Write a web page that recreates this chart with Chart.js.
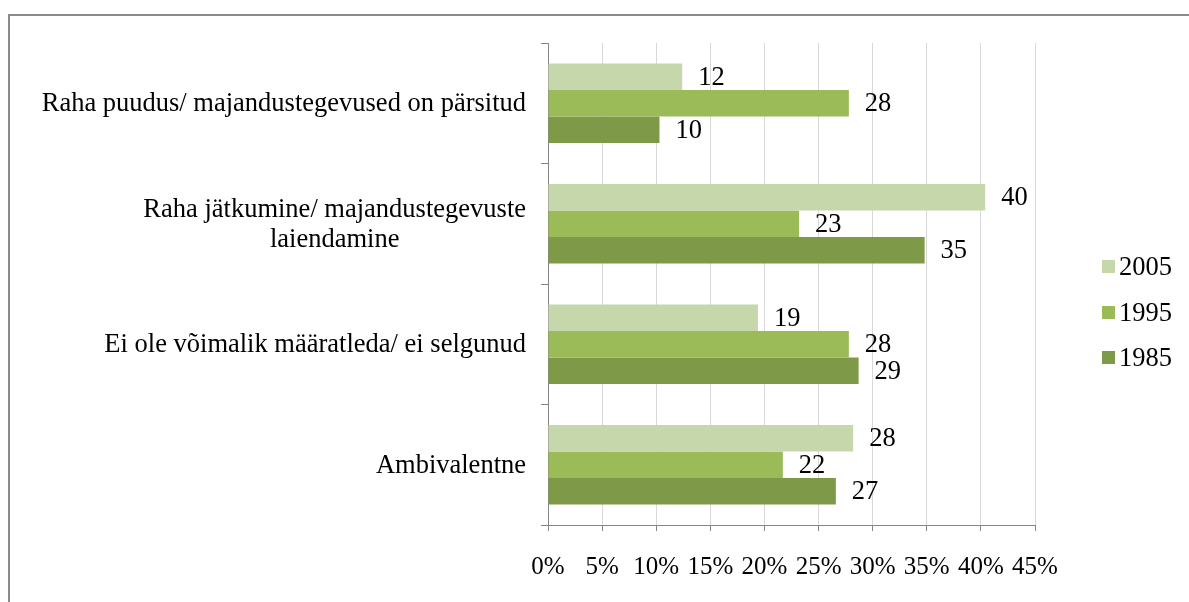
<!DOCTYPE html>
<html>
<head>
<meta charset="utf-8">
<script src="https://cdn.jsdelivr.net/npm/chart.js@4/dist/chart.umd.min.js"></script>
<style>
html,body{margin:0;padding:0;background:#fff;}
canvas{display:block;}
</style>
</head>
<body>
<canvas id="c" width="1189" height="602"></canvas>
<script>
const categories = [
  "Raha puudus/ majandustegevused on pärsitud",
  ["Raha jätkumine/ majandustegevuste", "laiendamine"],
  "Ei ole võimalik määratleda/ ei selgunud",
  "Ambivalentne"
];
const seriesNames = ["2005", "1995", "1985"];
const values2005 = [12.4, 40.4, 19.4, 28.2];
const values1995 = [27.8, 23.2, 27.8, 21.7];
const values1985 = [10.3, 34.8, 28.7, 26.6];
const xTicks = [0, 5, 10, 15, 20, 25, 30, 35, 40, 45];

const colors = ["#c6d7ac", "#9bbb59", "#7e9a48"];
const FONT = "'Liberation Serif', 'Times New Roman', serif";
const FS = 26.5;

Chart.defaults.font.family = FONT;
Chart.defaults.font.size = FS;
Chart.defaults.color = '#000';

const framePlugin = {
  id: 'frame',
  beforeDraw(chart) {
    const c = chart.ctx;
    c.save();
    c.fillStyle = '#fff';
    c.fillRect(0, 0, chart.width, chart.height);
    c.fillStyle = '#8a8a8a';
    c.fillRect(8, 14, chart.width - 8, 2);
    c.fillRect(8, 14, 2, chart.height - 14);
    c.restore();
  }
};

const labelsPlugin = {
  id: 'valueLabels',
  afterDatasetsDraw(chart) {
    const c = chart.ctx;
    c.save();
    c.font = FS + 'px ' + FONT;
    c.fillStyle = '#000';
    c.textAlign = 'left';
    c.textBaseline = 'middle';
    chart.data.datasets.forEach((ds, di) => {
      const meta = chart.getDatasetMeta(di);
      meta.data.forEach((el, i) => {
        c.fillText(String(Math.round(ds.data[i])), el.x + 16, el.y + 1);
      });
    });
    // y category labels
    const ys = chart.scales.y;
    const right = 526, lh = 30;
    categories.forEach((lab, i) => {
      const lines = Array.isArray(lab) ? lab : [lab];
      const y = ys.getPixelForValue(i);
      const w = Math.max(...lines.map(l => c.measureText(l).width));
      const cx = right - w / 2;
      c.textAlign = 'center';
      lines.forEach((l, k) => {
        c.fillText(l, cx, y + 1 - (lines.length - 1) * lh / 2 + k * lh);
      });
    });
    // legend
    const legY = [267, 313, 358];
    seriesNames.forEach((n, i) => {
      c.fillStyle = colors[i];
      c.fillRect(1102, legY[i] - 7, 13, 13);
      c.fillStyle = '#000';
      c.textAlign = 'left';
      c.fillText(n, 1119, legY[i] + 1);
    });
    c.restore();
  }
};

new Chart(document.getElementById('c'), {
  type: 'bar',
  data: {
    labels: categories,
    datasets: [
      { label: seriesNames[0], data: values2005, backgroundColor: colors[0] },
      { label: seriesNames[1], data: values1995, backgroundColor: colors[1] },
      { label: seriesNames[2], data: values1985, backgroundColor: colors[2] }
    ]
  },
  options: {
    indexAxis: 'y',
    responsive: false,
    animation: false,
    devicePixelRatio: 1,
    categoryPercentage: 0.66,
    barPercentage: 1,
    layout: { padding: { left: 0, top: 43, right: 154, bottom: 17 } },
    plugins: { legend: { display: false }, tooltip: { enabled: false } },
    scales: {
      x: {
        min: 0, max: 45,
        afterBuildTicks(s) { s.ticks = xTicks.map(v => ({ value: v })); },
        ticks: { callback: v => v + '%', padding: 21, maxRotation: 0, autoSkip: false, font: { size: 25 } },
        grid: { color: '#d9d9d9', tickColor: '#868686', tickLength: 6, lineWidth: 1 },
        border: { color: '#868686', width: 1 },
        afterFit(s) { s.height = 60; }
      },
      y: {
        offset: true,
        ticks: { display: false },
        grid: { drawOnChartArea: false, offset: true, tickColor: '#868686', tickLength: 7 },
        border: { color: '#868686', width: 1 },
        afterFit(s) { s.width = 548; }
      }
    }
  },
  plugins: [framePlugin, labelsPlugin]
});
</script>
</body>
</html>
